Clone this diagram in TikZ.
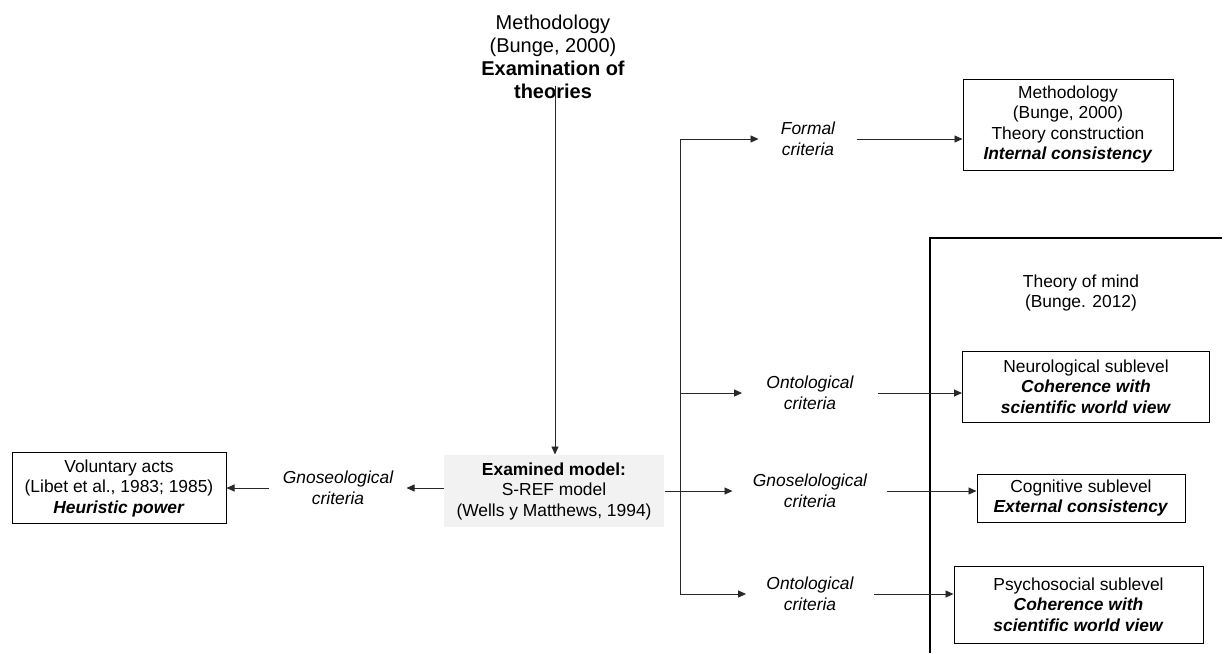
\documentclass[tikz,border=0pt]{standalone}
\usepackage{fontspec}
\setmainfont{Liberation Sans}
\usetikzlibrary{arrows.meta,positioning}
\definecolor{ModelGray}{RGB}{242,242,242}
\definecolor{LineGray}{RGB}{40,40,40}

\tikzset{
  box/.style={draw=black, line width=0.5pt, align=center, inner sep=0pt,
    font=\fontsize{8.7}{10.25}\selectfont},
  crit/.style={align=center, inner xsep=10pt, inner ysep=0pt,
    font=\fontsize{8.7}{10.25}\selectfont\itshape},
  arr/.style={-{Triangle[length=4pt,width=3.5pt]}, line width=0.45pt, LineGray},
}

\begin{document}
\begin{tikzpicture}[x=0.5pt, y=-0.5pt]
  \useasboundingbox (0,0) rectangle (1225,653);

  % Cabecera
  \node[align=center, font=\fontsize{10}{11.6}\selectfont] (exam) at (553,57)
    {Methodology\\(Bunge, 2000)\\\textbf{Examination of}\\\textbf{theories}};

  % Modelo examinado
  \node[box, draw=none, fill=ModelGray, minimum width=110pt, minimum height=36pt] (model) at (554,491)
    {\textbf{Examined model:}\\S-REF model\\(Wells y Matthews, 1994)};
  \draw[arr] ([xshift=1pt,yshift=10pt]exam.south) -- ([xshift=1pt]exam.south |- model.north);

  % Lado izquierdo
  \node[crit, inner xsep=6.5pt] (gnoL) at (338,488) {Gnoseological\\criteria};
  \node[box, minimum width=107pt, minimum height=35.5pt] (acts) at (119,488)
    {Voluntary acts\\(Libet et al., 1983; 1985)\\\textbf{\textit{Heuristic power}}};
  \draw[arr] (model.west |- gnoL.east) -- (gnoL.east);
  \draw[arr] (gnoL.west) -- (gnoL.west -| acts.east);

  % Tronco vertical
  \coordinate (trunkTop) at (680,139);
  \coordinate (trunkMid) at (680,393);
  \coordinate (trunkBot) at (680,594);
  \draw[line width=0.45pt, LineGray] (trunkTop) -- (trunkBot);

  % Marco teoria de la mente
  \draw[line width=1pt] (930,653) -- (930,238) -- (1222,238);
  \node[align=center, font=\fontsize{8.7}{10.25}\selectfont] (mind) at (1081,293)
    {Theory of mind\\(Bunge. 2012)};

  % Criterio formal
  \node[crit, inner xsep=11pt] (formal) at (808,139) {Formal\\criteria};
  \node[box, minimum width=105pt, minimum height=45.5pt] (theory) at (1068,124.5)
    {Methodology\\(Bunge, 2000)\\Theory construction\\\textbf{\textit{Internal consistency}}};
  \draw[arr] (trunkTop) -- (formal.west);
  \draw[arr] (formal.east) -- (formal.east -| theory.west);

  % Criterio ontologico (neurologico)
  \node[crit, inner xsep=12pt] (ontoA) at (810,393) {Ontological\\criteria};
  \node[box, minimum width=123.5pt, minimum height=35.5pt] (neuro) at (1086,386.5)
    {Neurological sublevel\\\textbf{\textit{Coherence with}}\\\textbf{\textit{scientific world view}}};
  \draw[arr] (trunkMid) -- (ontoA.west);
  \draw[arr] (ontoA.east) -- (ontoA.east -| neuro.west);

  % Criterio gnoseologico (cognitivo)
  \node[crit] (gnoR) at (810,491) {Gnoselological\\criteria};
  \node[box, minimum width=104pt, minimum height=24pt] (cog) at (1081,498)
    {Cognitive sublevel\\\textbf{\textit{External consistency}}};
  \draw[arr] (model.east) -- (gnoR.west);
  \draw[arr] (gnoR.east) -- (gnoR.east -| cog.west);

  % Criterio ontologico (psicosocial)
  \node[crit] (ontoB) at (810,594) {Ontological\\criteria};
  \node[box, minimum width=124.5pt, minimum height=38.5pt] (psy) at (1078.5,604.5)
    {Psychosocial sublevel\\\textbf{\textit{Coherence with}}\\\textbf{\textit{scientific world view}}};
  \draw[arr] (trunkBot) -- (ontoB.west);
  \draw[arr] (ontoB.east) -- (ontoB.east -| psy.west);
\end{tikzpicture}
\end{document}
